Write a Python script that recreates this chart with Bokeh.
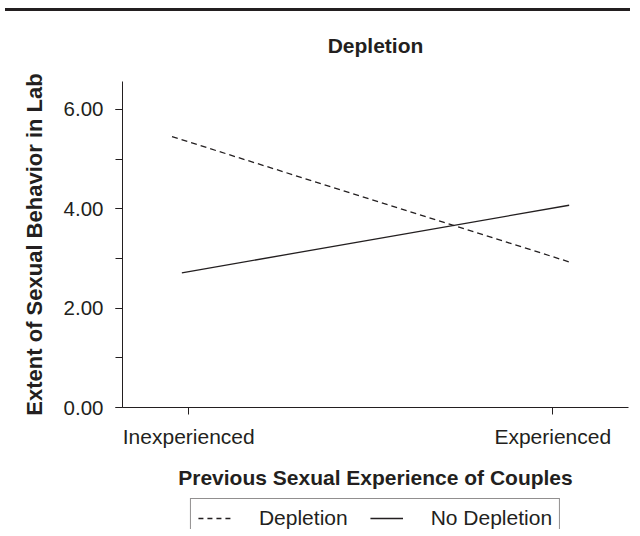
from bokeh.plotting import figure
from bokeh.models import (Range1d, FixedTicker, SingleIntervalTicker, NumeralTickFormatter,
                          Legend, LegendItem)
from bokeh.layouts import column
from bokeh.embed import file_html
from bokeh.resources import INLINE

# data
categories = ["Inexperienced", "Experienced"]
cat_pos = [0, 1]
depletion_x = [-0.046, 1.045]
depletion_y = [5.45, 2.93]
nodepletion_x = [-0.019, 1.045]
nodepletion_y = [2.71, 4.07]
series_labels = ["Depletion", "No Depletion"]

FONT = "Liberation Sans"
INK = "#231f20"
W = 630

p = figure(width=W, height=498, output_backend="svg", toolbar_location=None,
           x_range=Range1d(-0.182, 1.208), y_range=Range1d(0, 6.56),
           min_border_left=117, min_border_right=2, min_border_top=81, min_border_bottom=91,
           styles={"background-color": "#ffffff",
                   "background-image": "linear-gradient(to bottom, #ffffff 0px, #ffffff 8px, "
                                       "#231f20 8px, #231f20 11px)",
                   "background-position": "5px 0px",
                   "background-size": "625px 11px",
                   "background-repeat": "no-repeat"})
p.border_fill_color = None
p.background_fill_color = "#ffffff"
p.outline_line_color = None
p.grid.grid_line_color = None

p.title.text = "Depletion"
p.title.align = "center"
p.title.text_font = FONT
p.title.text_font_size = "21px"
p.title.text_font_style = "bold"
p.title.text_color = INK
p.title.standoff = 49

p.line(depletion_x, depletion_y, line_color=INK, line_width=1.3, line_dash="6 4")
p.line(nodepletion_x, nodepletion_y, line_color=INK, line_width=1.3)

xa = p.xaxis[0]
xa.ticker = FixedTicker(ticks=cat_pos)
xa.major_label_overrides = {0: categories[0], 1: categories[1]}
xa.axis_label = "Previous Sexual Experience of Couples"

ya = p.yaxis[0]
ya.ticker = SingleIntervalTicker(interval=2, num_minor_ticks=2)
ya.formatter = NumeralTickFormatter(format="0.00")
ya.axis_label = "Extent of Sexual Behavior in Lab"

for ax in (xa, ya):
    ax.axis_line_color = INK
    ax.major_tick_line_color = INK
    ax.minor_tick_line_color = INK
    ax.major_tick_in = 0
    ax.major_tick_out = 7
    ax.minor_tick_in = 0
    ax.minor_tick_out = 7
    ax.major_label_text_font = FONT
    ax.major_label_text_color = INK
    ax.axis_label_text_font = FONT
    ax.axis_label_text_font_style = "bold"
    ax.axis_label_text_color = INK
xa.minor_tick_line_color = None
xa.major_label_text_font_size = "21px"
xa.axis_label_text_font_size = "21px"
ya.major_label_text_font_size = "20.5px"
ya.axis_label_text_font_size = "22px"
xa.major_label_standoff = 10
xa.axis_label_standoff = 15
ya.major_label_standoff = 12
ya.axis_label_standoff = 14

# legend strip (its own small figure so the box can sit below the axis title);
# its key lines reuse the series data but fall outside this strip's ranges
lg = figure(width=W, height=31, output_backend="svg", toolbar_location=None,
            x_range=Range1d(10, 11), y_range=Range1d(10, 11),
            x_axis_type=None, y_axis_type=None,
            min_border_left=122, min_border_right=0, min_border_top=0, min_border_bottom=0)
lg.outline_line_color = None
lg.grid.grid_line_color = None
k1 = lg.line(depletion_x, depletion_y, line_color=INK, line_width=1.3, line_dash="5 4")
k2 = lg.line(nodepletion_x, nodepletion_y, line_color=INK, line_width=1.3)
legend = Legend(items=[LegendItem(label=series_labels[0], renderers=[k1]),
                       LegendItem(label=series_labels[1], renderers=[k2])],
                orientation="horizontal", location="top_center")
legend.label_text_font = FONT
legend.label_text_font_size = "21px"
legend.label_text_color = INK
legend.label_standoff = 28
legend.label_height = 20
legend.glyph_height = 20
legend.glyph_width = 33
legend.border_line_color = INK
legend.border_line_width = 1
legend.spacing = 22
legend.padding = 7
legend.margin = 0
lg.add_layout(legend, "center")

layout = column(p, lg, spacing=0)
open("out.html", "w").write(file_html(layout, INLINE))
